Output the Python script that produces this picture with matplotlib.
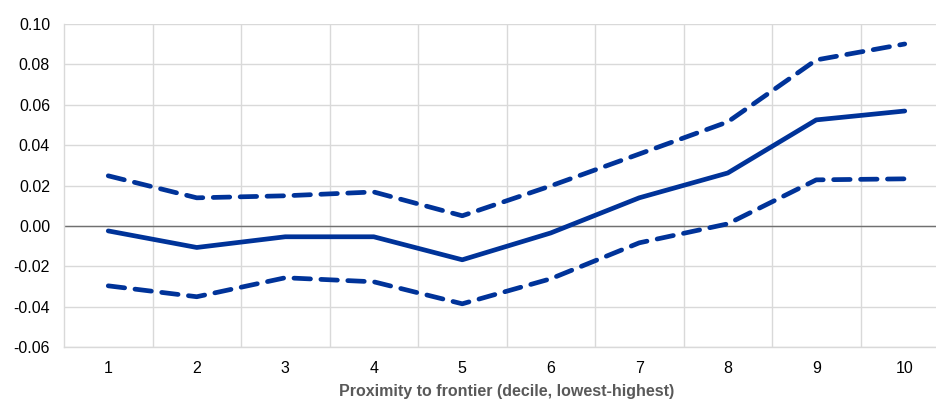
import matplotlib
matplotlib.use("Agg")
import matplotlib.pyplot as plt

plt.rcParams['font.family'] = ['Liberation Sans', 'DejaVu Sans']

deciles = [1, 2, 3, 4, 5, 6, 7, 8, 9, 10]
estimate = [-0.0025, -0.0107, -0.0054, -0.0054, -0.0168, -0.0035, 0.0139, 0.0262, 0.0525, 0.0569]
upper = [0.0248, 0.0139, 0.0149, 0.0168, 0.0050, 0.0198, 0.0356, 0.0515, 0.0822, 0.0901]
lower = [-0.0297, -0.0351, -0.0257, -0.0277, -0.0386, -0.0262, -0.0084, 0.0010, 0.0228, 0.0233]
yticks = [-0.06, -0.04, -0.02, 0.00, 0.02, 0.04, 0.06, 0.08, 0.10]
xlabel = "Proximity to frontier (decile, lowest-highest)"

blue = "#003399"
fig = plt.figure(figsize=(9.37, 4.03), dpi=100)
ax = fig.add_axes([64/937, 1-347/403, (949-64)/937, (347-24)/403])

ax.set_xlim(0.5, 10.5)
ax.set_ylim(-0.06, 0.10)
ax.set_yticks(yticks)
ax.set_yticklabels([f"{v:.2f}" for v in yticks])
ax.set_xticks(deciles)
ax.set_xticks([d + 0.5 for d in deciles[:-1]], minor=True)

ax.grid(axis='y', which='major', color='#d9d9d9', lw=1)
ax.grid(axis='x', which='minor', color='#d9d9d9', lw=1)
ax.set_axisbelow(True)
ax.axhline(0, color='#707070', lw=1, zorder=1)

for s in ['top', 'right']:
    ax.spines[s].set_visible(False)
for s in ['left', 'bottom']:
    ax.spines[s].set_color('#d9d9d9')
    ax.spines[s].set_linewidth(1)

ax.tick_params(axis='both', which='both', length=0, labelsize=11.5, colors='black')
ax.tick_params(axis='y', pad=10)
ax.tick_params(axis='x', pad=10)

ax.plot(deciles, estimate, color=blue, lw=3.4, solid_capstyle='round', solid_joinstyle='round', zorder=3)
for series in (upper, lower):
    ax.plot(deciles, series, color=blue, lw=3.4, linestyle=(0, (3.5, 2.2)),
            dash_capstyle='round', dash_joinstyle='round', zorder=3)

ax.set_xlabel(xlabel, fontsize=11.5, fontweight='bold', color='#595959', labelpad=6)

fig.savefig("out.png", dpi=100)
